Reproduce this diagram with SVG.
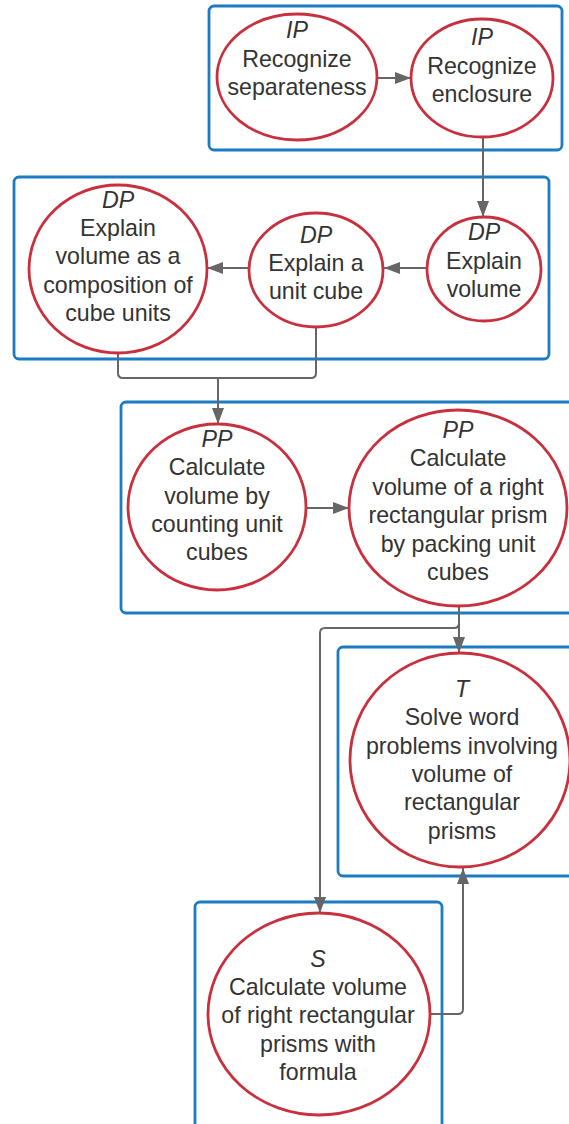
<svg xmlns="http://www.w3.org/2000/svg" width="569" height="1124" viewBox="0 0 569 1124">
  <style>
    .box { fill: none; stroke: #1b7cc1; stroke-width: 2.8; }
    .node { fill: #ffffff; stroke: #c9303e; stroke-width: 2.8; }
    .lbl { font-family: "Liberation Sans", Arial, sans-serif; font-size: 23.2px; fill: #333333; text-anchor: middle; }
    .tag { font-style: italic; }
    .conn { fill: none; stroke: #666666; stroke-width: 2; }
  </style>
  <defs>
    <marker id="arrow" viewBox="0 0 16 12" refX="16" refY="6" markerWidth="16" markerHeight="12" markerUnits="userSpaceOnUse" orient="auto">
      <path d="M0,0 L16,6 L0,12 Z" fill="#666666"/>
    </marker>
  </defs>
  <rect width="569" height="1124" fill="#ffffff"/>

  <!-- grouping frames -->
  <g id="frames">
    <rect class="box" x="209" y="6" width="353" height="144" rx="5"/>
    <rect class="box" x="14" y="177" width="535" height="182" rx="5"/>
    <rect class="box" x="121" y="402" width="460" height="211" rx="5"/>
    <rect class="box" x="338" y="647" width="240" height="229" rx="5"/>
    <rect class="box" x="195" y="902" width="247" height="240" rx="5"/>
  </g>

  <!-- connectors -->
  <g id="connectors">
    <path class="conn" d="M377,78 L411,78" marker-end="url(#arrow)"/>
    <path class="conn" d="M483,137 L483,217" marker-end="url(#arrow)"/>
    <path class="conn" d="M426,268 L384,268" marker-end="url(#arrow)"/>
    <path class="conn" d="M249,268 L207,268" marker-end="url(#arrow)"/>
    <path class="conn" d="M118,353 L118,373 Q118,378 123,378 L311,378 Q316,378 316,373 L316,327"/>
    <path class="conn" d="M218,378 L218,424" marker-end="url(#arrow)"/>
    <path class="conn" d="M307,508 L349,508" marker-end="url(#arrow)"/>
    <path class="conn" d="M459,606 L459,653" marker-end="url(#arrow)"/>
    <path class="conn" d="M459,623 Q459,628 454,628 L325,628 Q320,628 320,633 L320,913" marker-end="url(#arrow)"/>
    <path class="conn" d="M431,1014 L458,1014 Q463,1014 463,1009 L463,868" marker-end="url(#arrow)"/>
  </g>

  <g id="recognize-separateness">
    <ellipse class="node" cx="297" cy="77" rx="80" ry="63"/>
    <text class="lbl" x="297" y="38"><tspan class="tag">IP</tspan><tspan x="297" dy="28.5">Recognize</tspan><tspan x="297" dy="28.5">separateness</tspan></text>
  </g>

  <g id="recognize-enclosure">
    <ellipse class="node" cx="482" cy="78" rx="71" ry="59"/>
    <text class="lbl" x="482" y="45"><tspan class="tag">IP</tspan><tspan x="482" dy="28.5">Recognize</tspan><tspan x="482" dy="28.5">enclosure</tspan></text>
  </g>

  <g id="explain-composition">
    <ellipse class="node" cx="118" cy="269" rx="89" ry="84"/>
    <text class="lbl" x="118" y="208"><tspan class="tag">DP</tspan><tspan x="118" dy="28.2">Explain</tspan><tspan x="118" dy="28.2">volume as a</tspan><tspan x="118" dy="28.2">composition of</tspan><tspan x="118" dy="28.2">cube units</tspan></text>
  </g>

  <g id="explain-unit-cube">
    <ellipse class="node" cx="316" cy="270" rx="67" ry="57"/>
    <text class="lbl" x="316" y="243"><tspan class="tag">DP</tspan><tspan x="316" dy="28">Explain a</tspan><tspan x="316" dy="28">unit cube</tspan></text>
  </g>

  <g id="explain-volume">
    <ellipse class="node" cx="484" cy="269" rx="57" ry="52"/>
    <text class="lbl" x="484" y="240"><tspan class="tag">DP</tspan><tspan x="484" dy="28.5">Explain</tspan><tspan x="484" dy="28.5">volume</tspan></text>
  </g>

  <g id="count-unit-cubes">
    <ellipse class="node" cx="217" cy="507" rx="89" ry="83"/>
    <text class="lbl" x="217" y="447"><tspan class="tag">PP</tspan><tspan x="217" dy="28.3">Calculate</tspan><tspan x="217" dy="28.3">volume by</tspan><tspan x="217" dy="28.3">counting unit</tspan><tspan x="217" dy="28.3">cubes</tspan></text>
  </g>

  <g id="pack-unit-cubes">
    <ellipse class="node" cx="458" cy="508" rx="109" ry="98"/>
    <text class="lbl" x="458" y="438"><tspan class="tag">PP</tspan><tspan x="458" dy="28.4">Calculate</tspan><tspan x="458" dy="28.4">volume of a right</tspan><tspan x="458" dy="28.4">rectangular prism</tspan><tspan x="458" dy="28.4">by packing unit</tspan><tspan x="458" dy="28.4">cubes</tspan></text>
  </g>

  <g id="word-problems">
    <ellipse class="node" cx="460" cy="760" rx="110" ry="107"/>
    <text class="lbl" x="462" y="697"><tspan class="tag">T</tspan><tspan x="462" dy="28.3">Solve word</tspan><tspan x="462" dy="28.3">problems involving</tspan><tspan x="462" dy="28.3">volume of</tspan><tspan x="462" dy="28.3">rectangular</tspan><tspan x="462" dy="28.3">prisms</tspan></text>
  </g>

  <g id="volume-formula">
    <ellipse class="node" cx="319" cy="1014" rx="111" ry="101"/>
    <text class="lbl" x="318" y="967"><tspan class="tag">S</tspan><tspan x="318" dy="28.2">Calculate volume</tspan><tspan x="318" dy="28.2">of right rectangular</tspan><tspan x="318" dy="28.2">prisms with</tspan><tspan x="318" dy="28.2">formula</tspan></text>
  </g>
</svg>
